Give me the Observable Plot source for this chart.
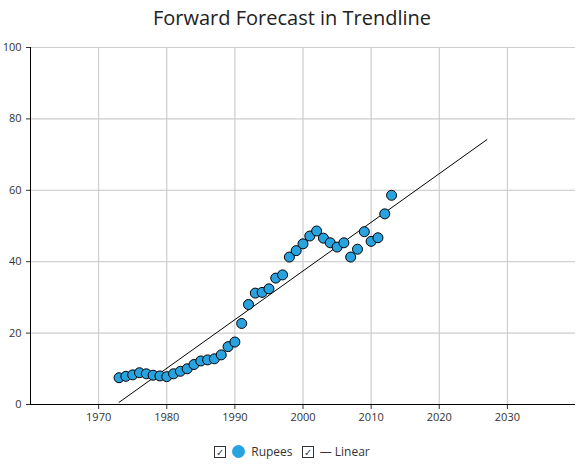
<!DOCTYPE html>
<html>
<head>
<meta charset="utf-8">
<script src="https://cdn.jsdelivr.net/npm/d3@7"></script>
<script src="https://cdn.jsdelivr.net/npm/@observablehq/plot@0.6"></script>
<style>
  body { margin: 0; width: 584px; font-family: 'Open Sans', sans-serif; }
  #title { height: 40px; line-height: 36px; text-align: center; font-size: 20px; color: #222; }
  #legend { text-align: center; font-size: 12px; color: #333; margin-top: 12px; }
  #legend span { margin: 0 3px; vertical-align: middle; }
  .box { display: inline-block; width: 10px; height: 10px; border: 1px solid #333; font-size: 10px; line-height: 10px; }
  .dot { display: inline-block; width: 13px; height: 13px; border-radius: 50%; background: #29a3e0; }
</style>
</head>
<body>
<div id="title">Forward Forecast in Trendline</div>
<div id="graphic"></div>
<div id="legend"><span class="box">✓</span><span class="dot"></span><span>Rupees</span> <span class="box">✓</span><span>— Linear</span></div>
<script>
const years = d3.range(1973, 2014);
const rupees = [7.5, 7.9, 8.3, 8.9, 8.6, 8.2, 8.0, 7.8, 8.6, 9.3, 10.0, 11.2, 12.2, 12.5, 12.8, 13.9, 16.2, 17.5, 22.7, 28.0,
  31.2, 31.4, 32.4, 35.4, 36.3, 41.3, 43.1, 45.0, 47.2, 48.6, 46.6, 45.3, 44.1, 45.3, 41.3, 43.5, 48.4, 45.7, 46.7, 53.4, 58.6];
const trendYears = [1973, 2027];
const trendValues = [0.6, 74.2];

const data = years.map((y, i) => ({year: y, value: rupees[i]}));
const trend = trendYears.map((y, i) => ({year: y, value: trendValues[i]}));

const chart = Plot.plot({
  width: 584, height: 390,
  marginTop: 7, marginBottom: 26, marginLeft: 30, marginRight: 9,
  style: {fontSize: "11px", fontFamily: "'Open Sans', sans-serif", color: "#333"},
  x: {domain: [1960, 2040], ticks: d3.range(1970, 2031, 10), tickFormat: d => String(d), label: null, grid: true, tickSize: 5},
  y: {domain: [0, 100], ticks: d3.range(0, 101, 20), label: null, grid: true, tickSize: 4},
  marks: [
    Plot.gridX(d3.range(1970, 2031, 10), {stroke: "#ccc", strokeOpacity: 1}),
    Plot.gridY(d3.range(20, 101, 20), {stroke: "#ccc", strokeOpacity: 1}),
    Plot.ruleX([1960], {stroke: "#000"}),
    Plot.ruleY([0], {stroke: "#000"}),
    Plot.line(trend, {x: "year", y: "value", stroke: "#000", strokeWidth: 1}),
    Plot.dot(data, {x: "year", y: "value", r: 5, fill: "#29a3e0", stroke: "#000", strokeWidth: 1})
  ]
});
document.getElementById('graphic').appendChild(chart);
</script>
</body>
</html>
